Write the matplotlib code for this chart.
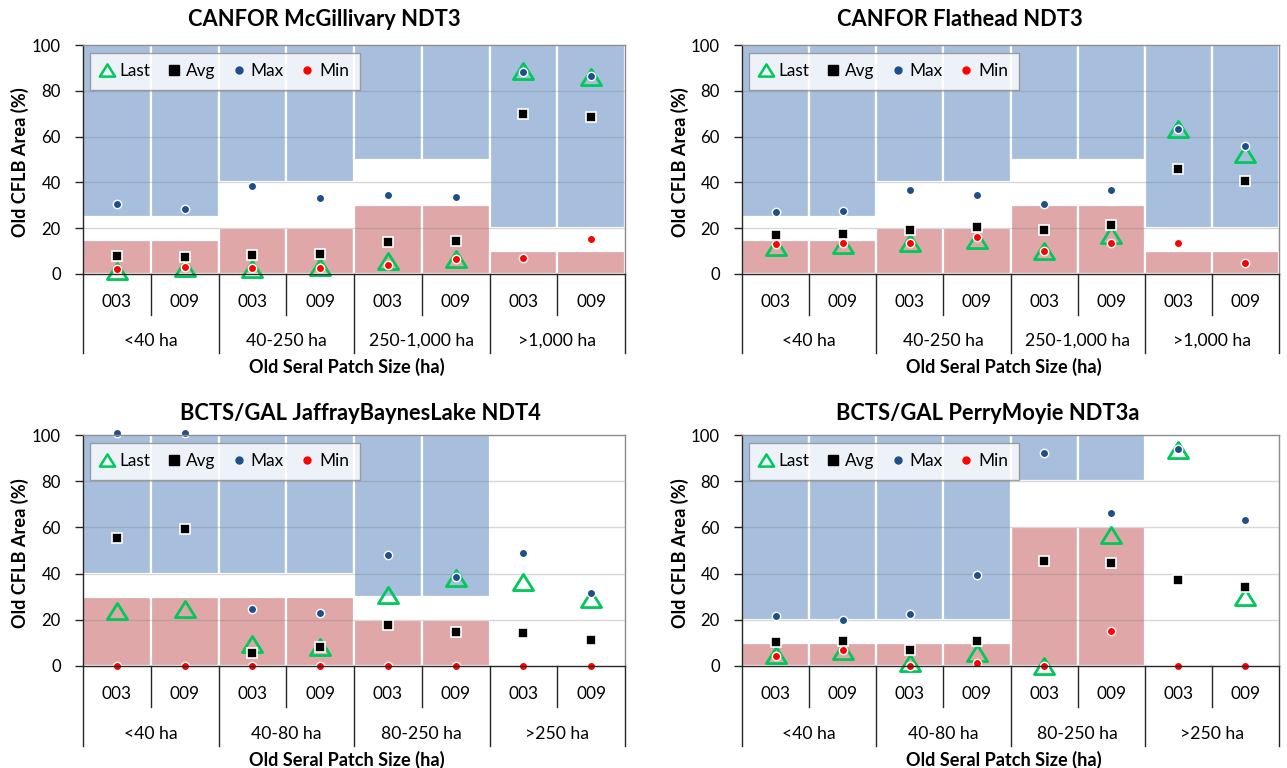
import numpy as np
import matplotlib
matplotlib.use("Agg")
import matplotlib.pyplot as plt
from matplotlib.lines import Line2D
from matplotlib.path import Path
import matplotlib.transforms as mtransforms

plt.rcParams['font.family'] = ['Lato', 'DejaVu Sans']

# ---------------- data ----------------
titles = ["CANFOR McGillivary NDT3", "CANFOR Flathead NDT3",
          "BCTS/GAL JaffrayBaynesLake NDT4", "BCTS/GAL PerryMoyie NDT3a"]
units = ["003", "009"]
classes_top = ["<40 ha", "40-250 ha", "250-1,000 ha", ">1,000 ha"]
classes_bot = ["<40 ha", "40-80 ha", "80-250 ha", ">250 ha"]

# target bands per size class (blue: band_low..100, pink: 0..pink_top)
mcg_blue_low = [25, 40, 50, 20]
mcg_pink_top = [15, 20, 30, 10]
mcg_last = [1.5, 2.6, 2.2, 3.0, 5.5, 6.5, 88.5, 86.0]
mcg_avg = [7.9, 7.6, 8.4, 8.8, 14.0, 14.4, 69.7, 68.5]
mcg_max = [30.4, 28.4, 38.5, 33.2, 34.3, 33.6, 88.0, 86.6]
mcg_min = [2.2, 2.9, 2.6, 2.6, 4.0, 6.5, 7.2, 15.4]

fla_blue_low = [25, 40, 50, 20]
fla_pink_top = [15, 20, 30, 10]
fla_last = [12.0, 12.5, 13.5, 15.0, 10.0, 17.0, 63.3, 52.4]
fla_avg = [16.9, 17.3, 19.0, 20.5, 19.0, 21.6, 45.7, 40.7]
fla_max = [27.0, 27.7, 36.5, 34.5, 30.7, 36.5, 63.2, 55.8]
fla_min = [13.0, 13.4, 13.7, 16.2, 10.1, 13.7, 13.7, 4.8]

jbl_blue_low = [40, 40, 30, None]
jbl_pink_top = [30, 30, 20, None]
jbl_last = [23.6, 24.6, 9.6, 8.2, 30.8, 38.3, 36.4, 28.9]
jbl_avg = [55.6, 59.2, 5.8, 8.2, 17.6, 14.9, 14.5, 11.1]
jbl_max = [100.7, 100.7, 24.6, 23.0, 48.1, 38.7, 49.1, 31.8]
jbl_min = [0, 0, 0, 0, 0, 0, 0, 0]

pmo_blue_low = [20, 20, 80, None]
pmo_pink_top = [10, 10, 60, None]
pmo_last = [4.9, 6.4, 1.4, 5.5, 0.0, 56.9, 93.5, 29.7]
pmo_avg = [10.6, 11.0, 7.1, 11.0, 45.3, 44.6, 37.3, 34.4]
pmo_max = [21.6, 20.0, 22.6, 39.5, 92.0, 66.3, 94.0, 63.4]
pmo_min = [4.5, 7.1, 0.1, 1.3, 0.1, 15.3, 0.0, 0.0]

panels = [
    (titles[0], classes_top, mcg_blue_low, mcg_pink_top, mcg_last, mcg_avg, mcg_max, mcg_min),
    (titles[1], classes_top, fla_blue_low, fla_pink_top, fla_last, fla_avg, fla_max, fla_min),
    (titles[2], classes_bot, jbl_blue_low, jbl_pink_top, jbl_last, jbl_avg, jbl_max, jbl_min),
    (titles[3], classes_bot, pmo_blue_low, pmo_pink_top, pmo_last, pmo_avg, pmo_max, pmo_min),
]

# ---------------- style ----------------
BLUE = '#a7bfdd'
PINK = '#dfa7a7'
GREEN = '#00c85a'
NAVY = '#1f4e8c'
RED = '#ff0000'

W, H = 1287, 768
fig = plt.figure(figsize=(W / 100, H / 100), dpi=100)
renderer = fig.canvas.get_renderer()


def size_for(s, target_px, weight='normal'):
    t = fig.text(0, 0, s, fontsize=10, fontweight=weight)
    w = t.get_window_extent(renderer).width
    t.remove()
    return 10 * target_px / w


FS_TICK = size_for("100", 29)
FS_UNIT = size_for("003", 30)
FS_GRP = size_for("40-250 ha", 81)
FS_XL = size_for("Old Seral Patch Size (ha)", 195, 'bold')
FS_TITLE = size_for("CANFOR McGillivary NDT3", 272, 'bold')
FS_LEG = size_for("Last", 31)
FS_YL = FS_XL

# axes boxes in pixels: left, right, top, bottom
boxes = [(83, 625, 45, 274), (742, 1279, 45, 274),
         (83, 625, 435, 666), (742, 1279, 435, 666)]
title_pos = [(324, 19), (960, 19), (360, 414), (988, 414)]
ylab_x = [20, 680, 20, 680]

tri = Path([(0, 0.8), (-1, -0.8), (1, -0.8), (0, 0.8)],
           [Path.MOVETO, Path.LINETO, Path.LINETO, Path.CLOSEPOLY])

for k, (title, classes, blue_low, pink_top, last, avg, mx, mn) in enumerate(panels):
    l, r, t, b = boxes[k]
    ax = fig.add_axes([l / W, 1 - b / H, (r - l) / W, (b - t) / H])
    n = len(classes) * len(units)
    x = np.arange(n)
    bl = np.array([np.nan if v is None else v for v in blue_low for _ in units], float)
    pt = np.array([np.nan if v is None else v for v in pink_top for _ in units], float)
    ax.bar(x, pt, width=1.0, color=PINK, edgecolor='white', linewidth=1.6, zorder=1)
    ax.bar(x, 100 - bl, bottom=bl, width=1.0, color=BLUE, edgecolor='white',
           linewidth=1.6, zorder=1)
    for yv in [20, 40, 60, 80]:
        ax.axhline(yv, color='#7f7f7f', alpha=0.3, lw=1.0, zorder=2)

    ax.plot(x, last, ls='none', marker=tri, ms=14.5, mfc='none', mec=GREEN, mew=2.0,
            zorder=3, clip_on=False)
    ax.plot(x, avg, ls='none', marker='s', ms=7.8, mfc='black', mec='white', mew=1.2,
            zorder=4, clip_on=False)
    ax.plot(x, mx, ls='none', marker='o', ms=6.0, mfc=NAVY, mec='white', mew=1.0,
            zorder=5, clip_on=False)
    ax.plot(x, mn, ls='none', marker='o', ms=6.0, mfc=RED, mec='white', mew=1.0,
            zorder=6, clip_on=False)

    ax.set_xlim(-0.5, n - 0.5)
    ax.set_ylim(0, 100)
    ax.set_yticks(np.arange(0, 101, 20))
    ax.set_xticks([])
    ax.tick_params(axis='y', direction='out', length=6, width=1, color='#262626',
                   pad=10, labelsize=FS_TICK)
    ax.spines['left'].set_color('#262626')
    ax.spines['bottom'].set_color('#262626')
    ax.spines['top'].set_color('#8c8c8c')
    ax.spines['right'].set_color('#8c8c8c')
    for s in ax.spines.values():
        s.set_linewidth(1.0)
        s.set_zorder(7)

    # multi-level category axis
    trans = mtransforms.blended_transform_factory(ax.transData, ax.transAxes)
    ah = 229.0
    y_unit = -(302 - 274) / ah
    y_sep1 = -(315 - 274) / ah
    y_grp = -(341 - 274) / ah
    y_sep2 = -(353 - 274) / ah
    for i in range(n):
        ax.text(i, y_unit, units[i % 2], transform=trans, ha='center', va='center',
                fontsize=FS_UNIT)
    for i in range(n + 1):
        xb = i - 0.5
        y_end = y_sep2 if i % 2 == 0 else y_sep1
        ax.add_line(Line2D([xb, xb], [0, y_end], transform=trans, color='#262626',
                           lw=1.0, clip_on=False))
    for g, name in enumerate(classes):
        ax.text(2 * g + 0.5, y_grp, name, transform=trans, ha='center', va='center',
                fontsize=FS_GRP)

    ax.text(0.487, -(367 - 274) / ah, "Old Seral Patch Size (ha)", transform=ax.transAxes,
            ha='center', va='center', fontsize=FS_XL, fontweight='bold')
    ax.text((ylab_x[k] - l) / (r - l), 0.49, "Old CFLB Area (%)", transform=ax.transAxes,
            rotation=90, ha='center', va='center', fontsize=FS_YL, fontweight='bold')
    tx, ty = title_pos[k]
    fig.text(tx / W, 1 - ty / H, title, ha='center', va='center', fontsize=FS_TITLE,
             fontweight='bold')

    handles = [
        Line2D([], [], ls='none', marker=tri, ms=11, mfc='none', mec=GREEN, mew=1.8),
        Line2D([], [], ls='none', marker='s', ms=7, mfc='black', mec='black'),
        Line2D([], [], ls='none', marker='o', ms=5, mfc=NAVY, mec=NAVY),
        Line2D([], [], ls='none', marker='o', ms=5, mfc=RED, mec=RED),
    ]
    leg = ax.legend(handles, ["Last", "Avg", "Max", "Min"], ncol=4, loc='upper left',
                    bbox_to_anchor=(0.013, 0.965), borderaxespad=0, fontsize=FS_LEG,
                    frameon=True, fancybox=False, edgecolor='#8c8c8c',
                    handlelength=0.8, handletextpad=0.3, columnspacing=0.95,
                    borderpad=0.6)
    leg.get_frame().set_linewidth(1.0)
    leg.set_zorder(10)

fig.savefig("out.png", dpi=100)
